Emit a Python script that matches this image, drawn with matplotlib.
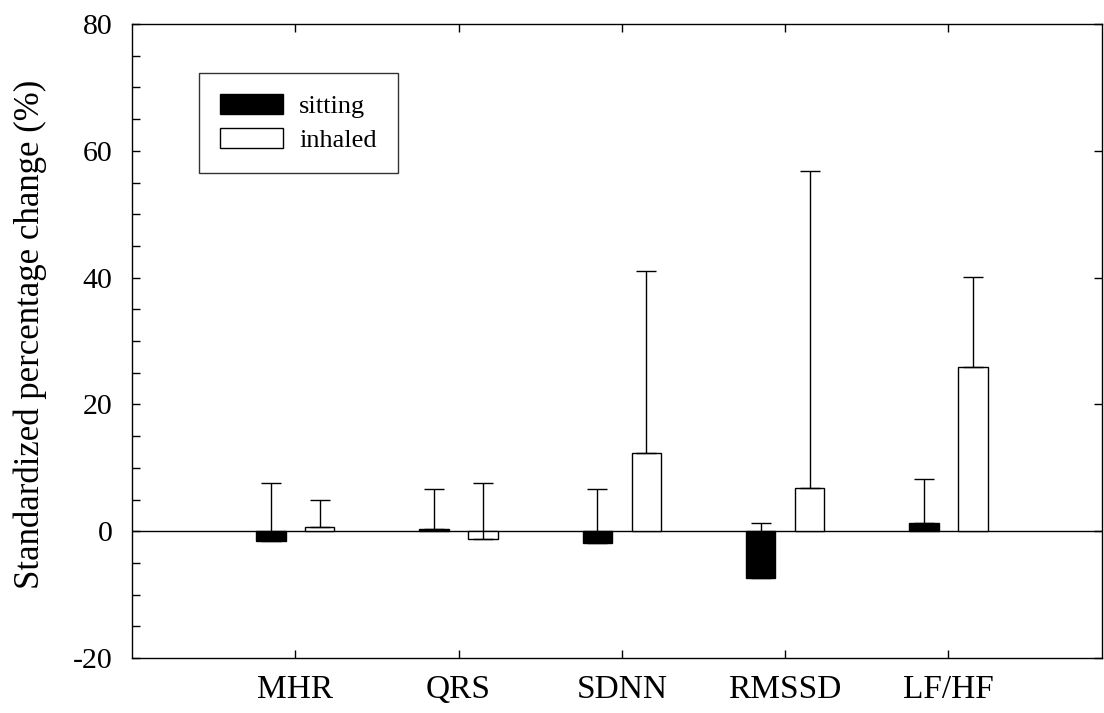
import numpy as np
import matplotlib
matplotlib.use("Agg")
import matplotlib.pyplot as plt
from matplotlib.ticker import MultipleLocator

# 資料
categories = ["MHR", "QRS", "SDNN", "RMSSD", "LF/HF"]
sitting_mean = [-1.5, 0.4, -1.9, -7.4, 1.3]
sitting_upper = [7.6, 6.7, 6.6, 1.3, 8.2]
inhaled_mean = [0.7, -1.3, 12.4, 6.8, 25.9]
inhaled_upper = [5.0, 7.6, 41.1, 56.8, 40.1]

plt.rcParams["font.family"] = ["Liberation Serif", "DejaVu Serif"]
plt.rcParams["axes.unicode_minus"] = False

fig = plt.figure(figsize=(11.04, 7.13), dpi=100)
ax = fig.add_axes([132 / 1104, 55 / 713, 970 / 1104, 634 / 713])

x = np.arange(1, len(categories) + 1)
width = 0.18
offset = 0.15

sit_err = [np.zeros(len(x)), np.array(sitting_upper) - np.array(sitting_mean)]
inh_err = [np.zeros(len(x)), np.array(inhaled_upper) - np.array(inhaled_mean)]

ax.bar(x - offset, sitting_mean, width, color="black", edgecolor="black",
       linewidth=1.0, label="sitting", zorder=2)
ax.bar(x + offset, inhaled_mean, width, color="white", edgecolor="black",
       linewidth=1.0, label="inhaled", zorder=2)
ax.errorbar(x - offset, sitting_mean, yerr=sit_err, fmt="none", ecolor="black",
            elinewidth=1.0, capsize=7.2, capthick=1.0, zorder=3)
ax.errorbar(x + offset, inhaled_mean, yerr=inh_err, fmt="none", ecolor="black",
            elinewidth=1.0, capsize=7.2, capthick=1.0, zorder=3)

ax.axhline(0, color="black", linewidth=1.0, zorder=1)

ax.set_xlim(0, 5.94)
ax.set_ylim(-20, 80)
ax.set_xticks(x)
ax.set_xticklabels(categories)
ax.yaxis.set_major_locator(MultipleLocator(20))
ax.yaxis.set_minor_locator(MultipleLocator(5))

ax.tick_params(axis="x", which="major", direction="in", length=6, width=1.0,
               top=True, bottom=True, labelsize=24, pad=12)
ax.tick_params(axis="y", which="major", direction="in", length=6, width=1.0,
               left=True, right=True, labelsize=21.5, pad=14)
ax.tick_params(axis="y", which="minor", direction="in", length=6, width=1.0,
               left=True, right=False)

for s in ax.spines.values():
    s.set_linewidth(1.0)

ax.set_ylabel("Standardized percentage change (%)", fontsize=25)
ax.yaxis.set_label_coords(-0.088, 0.51)

leg = ax.legend(loc="upper left", bbox_to_anchor=(199 / 1104, 1 - 73 / 713),
                bbox_transform=fig.transFigure, fontsize=19, frameon=True,
                fancybox=False, edgecolor="black", handlelength=2.4,
                handleheight=0.8, handletextpad=0.6, borderpad=0.8,
                labelspacing=0.35, borderaxespad=0)
leg.get_frame().set_linewidth(1.0)

fig.savefig("out.png", dpi=100)
